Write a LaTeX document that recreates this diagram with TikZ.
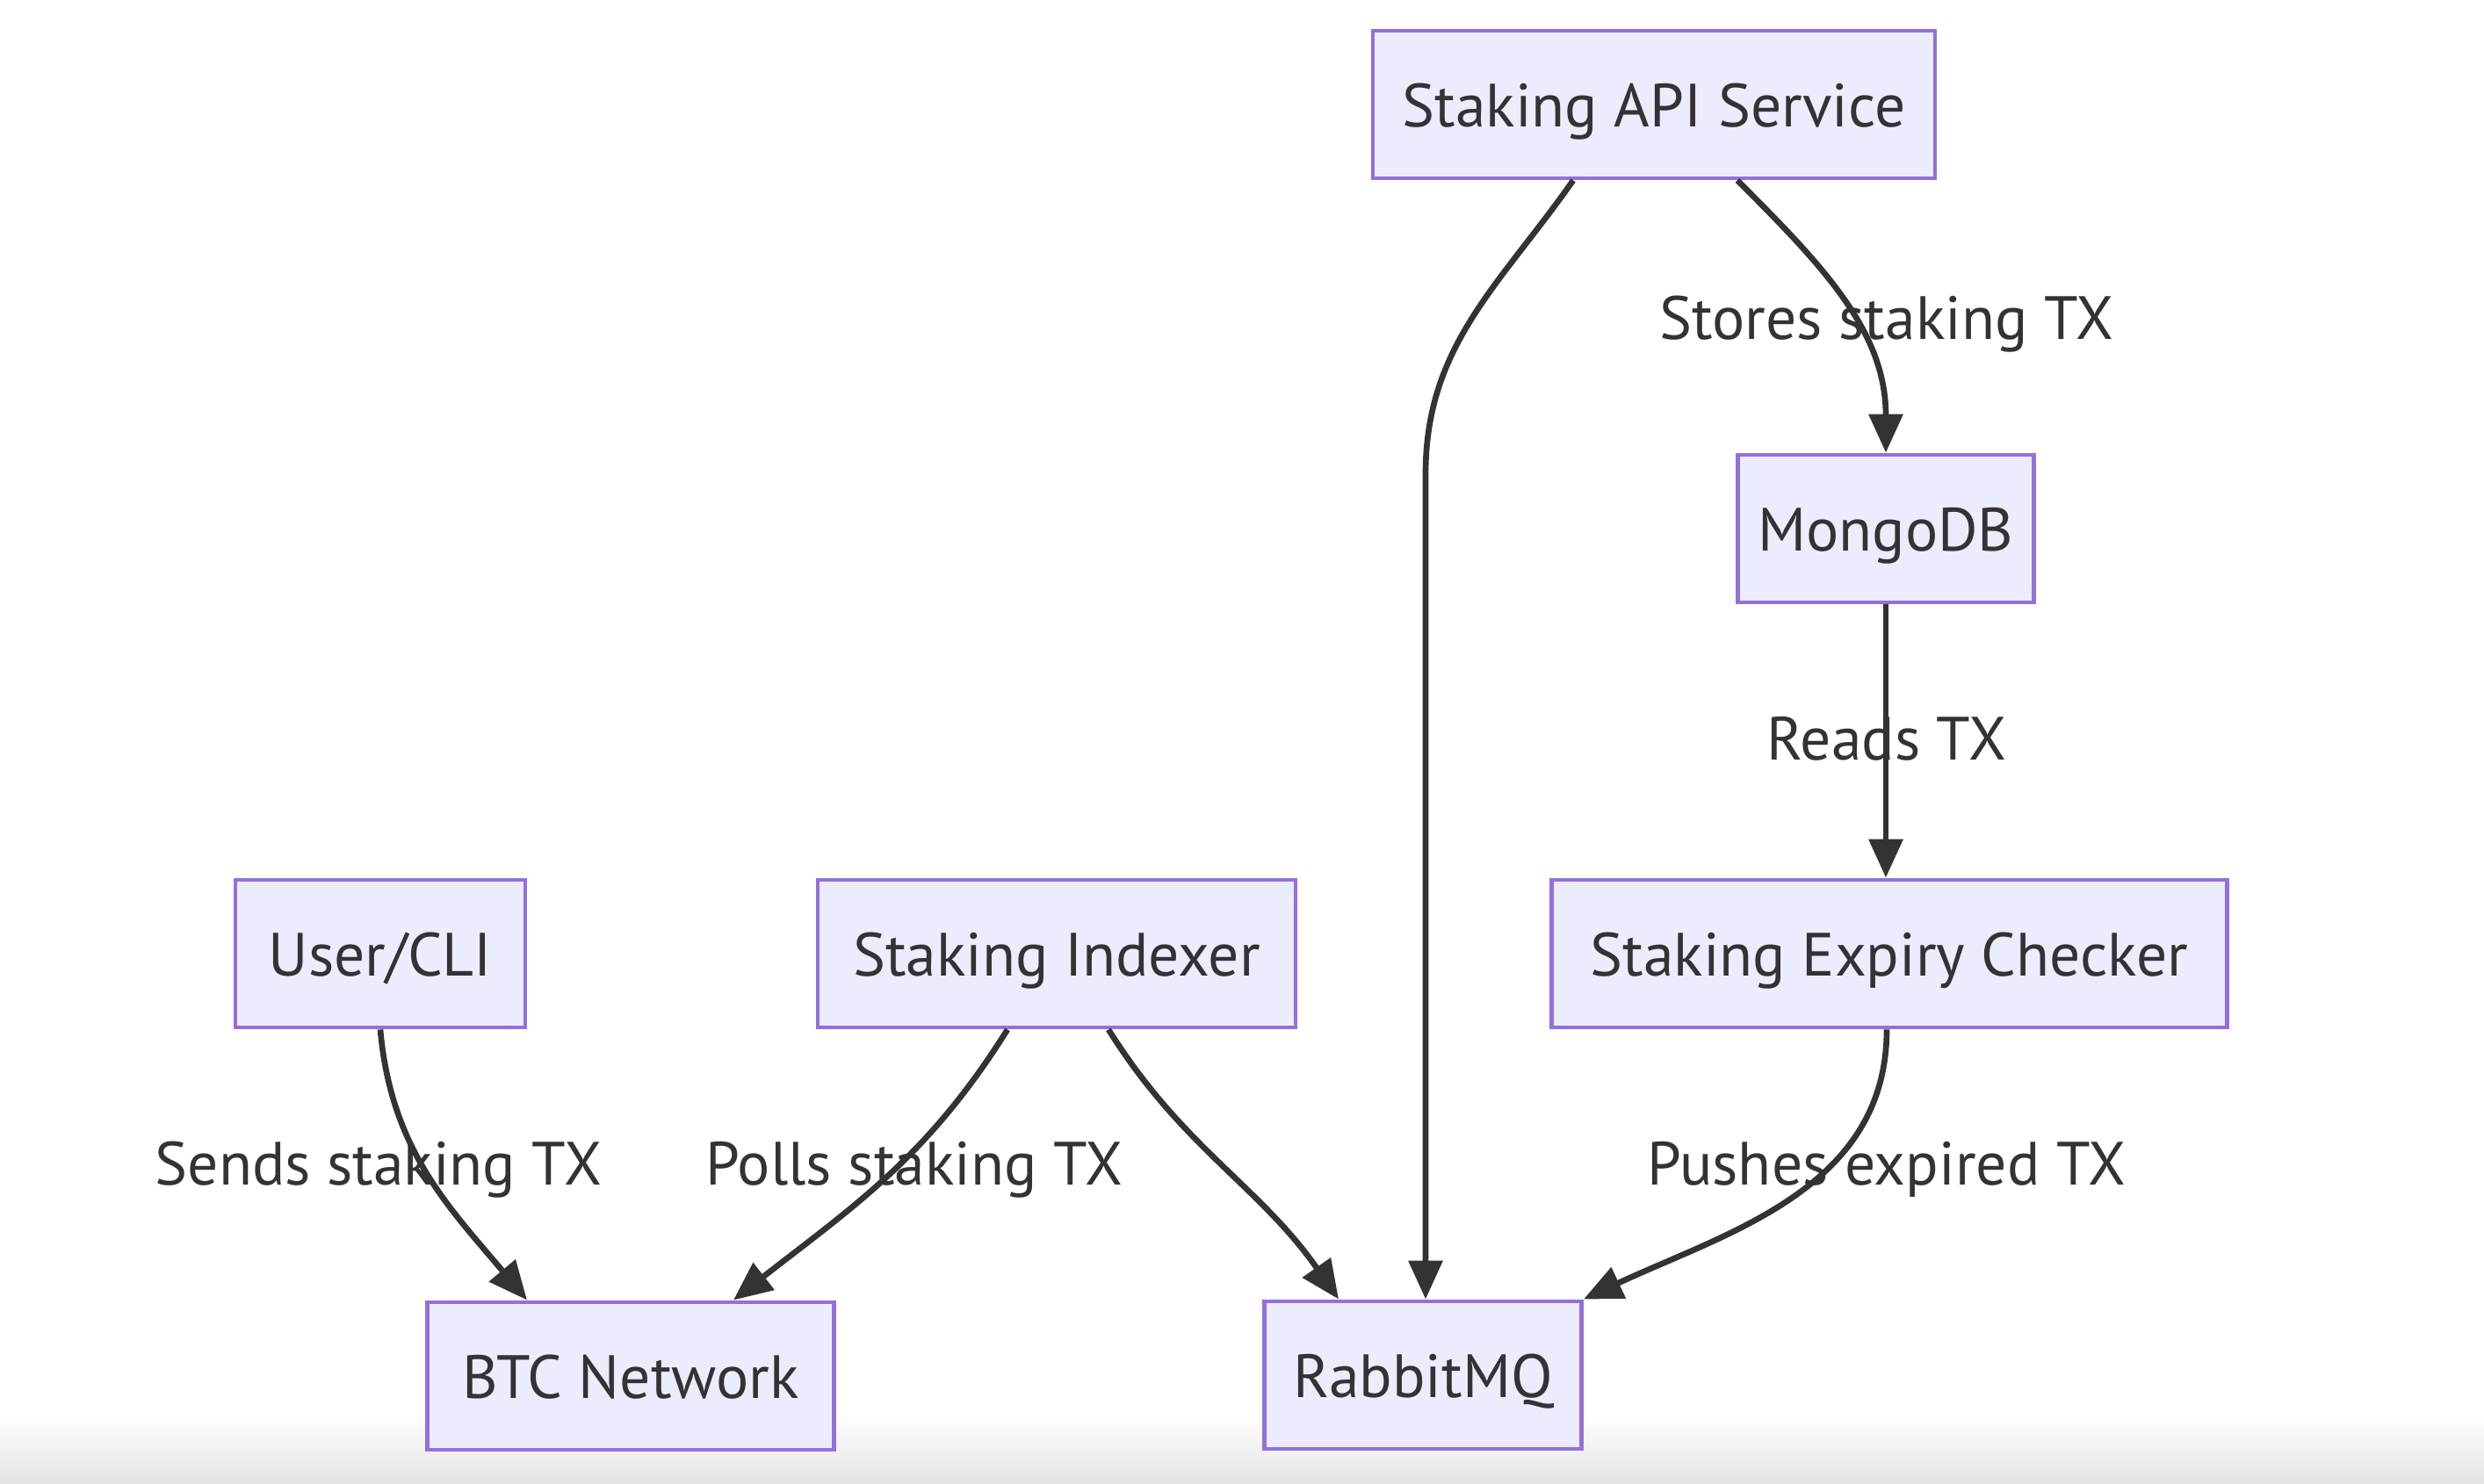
\documentclass[tikz,border=0pt]{standalone}
\usepackage{fontspec}
\setmainfont{PT Sans}
\usetikzlibrary{positioning}
\usetikzlibrary{arrows.meta}
\definecolor{lavender}{HTML}{ECECFF}
\definecolor{purpleline}{HTML}{9370DB}
\definecolor{ink}{HTML}{333333}

\begin{document}
\begin{tikzpicture}[
    >={Triangle[length=0.44cm,width=0.38cm]},
    % node styles
    svc/.style = {
      draw=purpleline,
      fill=lavender,
      line width=1.4pt,
      minimum height=1.68cm,
      inner xsep=0.12cm,
      text height=0.52cm,
      text depth=0cm,
      align=center,
      font=\fontsize{19.8}{24}\selectfont,
      text=ink
    },
    lbl/.style = {
      draw=none,
      inner sep=1pt,
      text height=0.47cm,
      text depth=0cm,
      font=\fontsize{19.8}{24}\selectfont,
      text=ink
    },
    % arrow styles
    arr/.style = {->, line width=1.9pt, draw=ink}
  ]

  % --- Canvas
  \useasboundingbox (0,0) rectangle (28.28,-16.9);
  \fill[white] (0,0) rectangle (28.28,-16.9);
  \shade[top color=white, bottom color=black!11] (0,-16.1) rectangle (28.28,-16.9);

  % --- Nodes
  \node[svc, minimum width=6.40cm] (api) at (18.83,-1.19) {Staking API Service};
  \node[svc, minimum width=3.37cm] (mongo) at (21.47,-6.02) {MongoDB};
  \node[svc, minimum width=3.30cm] (user) at (4.33,-10.86) {User/CLI};
  \node[svc, minimum width=5.44cm] (indexer) at (12.03,-10.86) {Staking Indexer};
  \node[svc, minimum width=7.69cm] (expiry) at (21.51,-10.86) {Staking Expiry Checker};
  \node[svc, minimum width=4.63cm] (btc) at (7.18,-15.67) {BTC Network};
  \node[svc, minimum width=3.61cm] (rabbit) at (16.20,-15.66) {RabbitMQ};

  % --- Arrows
  \draw[arr] ([xshift=-0.92cm]api.south) to[out=-125, in=90] (16.23,-5.4) -- ([xshift=0.03cm]rabbit.north);
  \draw[arr] ([xshift=0.95cm]api.south) to[out=-45, in=90] (mongo.north);
  \draw[arr] (mongo.south) -- (mongo.south |- expiry.north);
  \draw[arr] (user.south) to[out=-85, in=130] ([xshift=-1.18cm]btc.north);
  \draw[arr] ([xshift=-0.56cm]indexer.south) to[out=-122, in=38] ([xshift=1.17cm]btc.north);
  \draw[arr] ([xshift=0.59cm]indexer.south) to[out=-58, in=125] ([xshift=-0.96cm]rabbit.north);
  \draw[arr] ([xshift=-0.03cm]expiry.south) to[out=-90, in=25] (rabbit.north east);

  % --- Edge labels (no background, lines run through them)
  \node[lbl] (lstores) at (21.48,-3.63) {Stores staking TX};
  \node[lbl] (lreads) at (21.48,-8.42) {Reads TX};
  \node[lbl] (lsends) at (4.31,-13.26) {Sends staking TX};
  \node[lbl] (lpolls) at (10.41,-13.26) {Polls staking TX};
  \node[lbl] (lpushes) at (21.48,-13.26) {Pushes expired TX};
\end{tikzpicture}
\end{document}
